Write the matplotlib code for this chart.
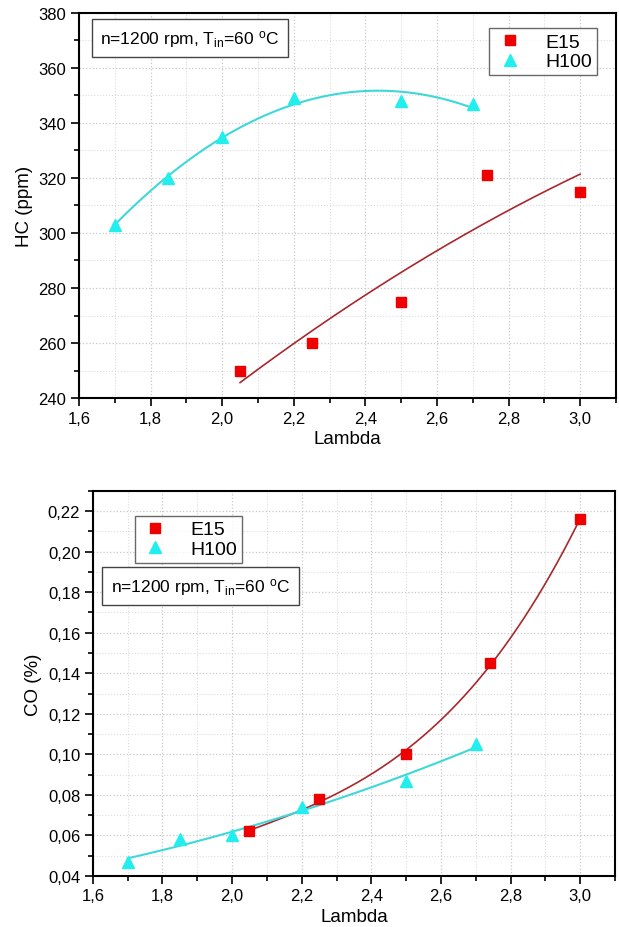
import numpy as np
import matplotlib
matplotlib.use("Agg")
import matplotlib.pyplot as plt
from matplotlib.ticker import MultipleLocator, FuncFormatter

plt.rcParams['font.family'] = ['Liberation Sans', 'DejaVu Sans']
plt.rcParams['mathtext.fontset'] = 'custom'
plt.rcParams['mathtext.rm'] = 'Liberation Sans'
plt.rcParams['mathtext.it'] = 'Liberation Sans'

# ---- data ----
lam_e15 = [2.05, 2.25, 2.5, 2.74, 3.0]
hc_e15 = [250, 260, 275, 321, 315]
co_e15 = [0.062, 0.078, 0.100, 0.145, 0.216]

lam_h100 = [1.7, 1.85, 2.0, 2.2, 2.5, 2.7]
hc_h100 = [303, 320, 335, 349, 348, 347]
co_h100 = [0.047, 0.058, 0.060, 0.074, 0.087, 0.105]

series_labels = ['E15', 'H100']
annot = r'n=1200 rpm, T$_{\mathregular{in}}$=60 $^{\mathregular{o}}$C'

RED = '#ee0000'
RED_LINE = '#a8282e'
CYAN = '#22eeee'
CYAN_LINE = '#3ed8d8'

fig = plt.figure(figsize=(6.19, 9.28), dpi=100)
ax1 = fig.add_axes([0.1276, 0.570, 0.8674, 0.415])
ax2 = fig.add_axes([0.150, 0.055, 0.8435, 0.415])


def fit_curve(x, y, deg):
    c = np.polyfit(x, y, deg)
    xs = np.linspace(min(x), max(x), 200)
    return xs, np.polyval(c, xs)


def style(ax, ymaj, ymin, fmt):
    ax.set_xlim(1.6, 3.1)
    ax.xaxis.set_major_locator(MultipleLocator(0.2))
    ax.xaxis.set_minor_locator(MultipleLocator(0.1))
    ax.yaxis.set_major_locator(MultipleLocator(ymaj))
    ax.yaxis.set_minor_locator(MultipleLocator(ymin))
    ax.xaxis.set_major_formatter(FuncFormatter(lambda v, p: f'{v:.1f}'.replace('.', ',')))
    ax.yaxis.set_major_formatter(FuncFormatter(fmt))
    ax.tick_params(which='major', direction='out', length=6, width=1.2, labelsize=12,
                   top=False, right=False, pad=3)
    ax.tick_params(which='minor', direction='out', length=3.5, width=1.2, top=False, right=False)
    ax.grid(which='major', color='#c8c8c8', linestyle=':', linewidth=0.9)
    ax.grid(which='minor', color='#dcdcdc', linestyle=':', linewidth=0.8)
    ax.set_axisbelow(True)
    for s in ax.spines.values():
        s.set_linewidth(1.5)
    ax.set_xlabel('Lambda', fontsize=13.5, labelpad=3)


# ---- top: HC ----
xs, ys = fit_curve(lam_e15, hc_e15, 2)
ax1.plot(xs, ys, color=RED_LINE, lw=1.2)
xs, ys = fit_curve(lam_h100, hc_h100, 2)
ax1.plot(xs, ys, color=CYAN_LINE, lw=1.5)
ax1.plot(lam_e15, hc_e15, 's', color=RED, ms=7, ls='none', label=series_labels[0])
ax1.plot(lam_h100, hc_h100, '^', color=CYAN, ms=8, ls='none', label=series_labels[1])
ax1.set_ylim(240, 380)
style(ax1, 20, 10, lambda v, p: f'{v:.0f}')
ax1.set_ylabel('HC (ppm)', fontsize=13.5, labelpad=4)
ax1.text(0.04, 0.962, annot, transform=ax1.transAxes, fontsize=12.5, va='top', ha='left',
         bbox=dict(boxstyle='square,pad=0.5', fc='white', ec='#444444', lw=1))
leg = ax1.legend(loc='upper right', bbox_to_anchor=(0.982, 0.985), fontsize=14, frameon=True,
                 fancybox=False, edgecolor='#444444', handletextpad=1.0, borderpad=0.25,
                 labelspacing=0.1, handlelength=1.6)
leg.get_frame().set_linewidth(1)

# ---- bottom: CO ----
xs, ys = fit_curve(lam_e15, co_e15, 3)
ax2.plot(xs, ys, color=RED_LINE, lw=1.2)
xs, ys = fit_curve(lam_h100, co_h100, 2)
ax2.plot(xs, ys, color=CYAN_LINE, lw=1.5)
ax2.plot(lam_e15, co_e15, 's', color=RED, ms=7, ls='none', label=series_labels[0])
ax2.plot(lam_h100, co_h100, '^', color=CYAN, ms=8, ls='none', label=series_labels[1])
ax2.set_ylim(0.04, 0.23)
style(ax2, 0.02, 0.01, lambda v, p: f'{v:.2f}'.replace('.', ','))
ax2.set_ylabel('CO (%)', fontsize=13.5, labelpad=4)
ax2.text(0.035, 0.78, annot, transform=ax2.transAxes, fontsize=12.5, va='top', ha='left',
         bbox=dict(boxstyle='square,pad=0.5', fc='white', ec='#444444', lw=1))
leg2 = ax2.legend(loc='upper left', bbox_to_anchor=(0.062, 0.96), fontsize=14, frameon=True,
                  fancybox=False, edgecolor='#444444', handletextpad=1.0, borderpad=0.25,
                  labelspacing=0.1, handlelength=1.6)
leg2.get_frame().set_linewidth(1)

fig.savefig('out.png', dpi=100)
